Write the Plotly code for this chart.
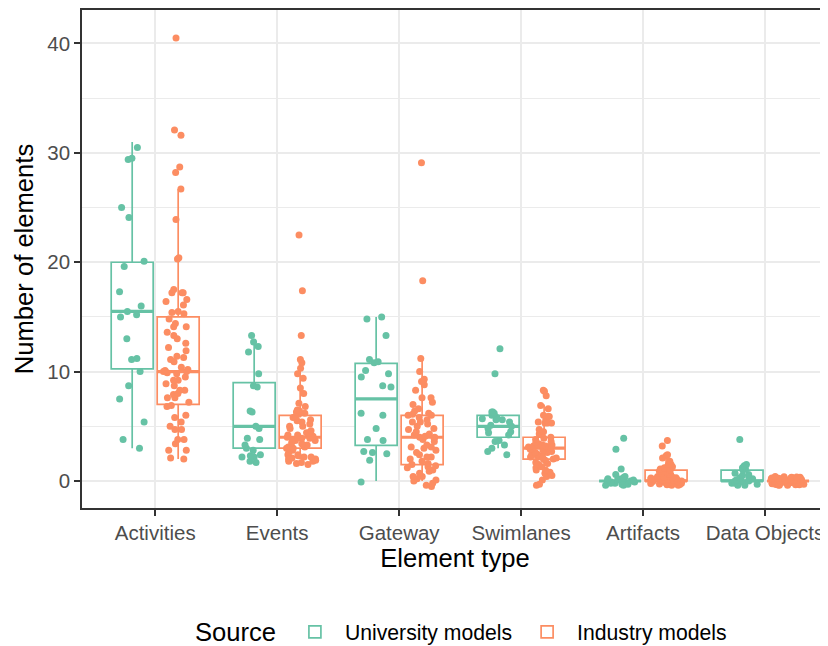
import plotly.graph_objects as go

# ---------------- data ----------------
categories = ["Activities", "Events", "Gateway", "Swimlanes", "Artifacts", "Data Objects"]

univ_activities = [30.5, 29.5, 29.4, 25.0, 24.1, 20.1, 19.6, 17.3, 16.0, 15.5, 15.2, 15.0, 13.0,
                   11.2, 11.1, 10.0, 8.7, 7.5, 5.4, 3.8, 3.0]
ind_activities = [40.5, 32.1, 31.6, 28.7, 28.2, 26.7, 23.9, 20.4, 20.3, 17.5, 17.2, 17.2, 17.2,
                  16.6, 16.4, 16.1, 15.5, 15.4, 15.3, 14.8, 14.4, 14.1, 14.1, 13.6, 13.3, 13.0,
                  12.6, 12.2, 11.9, 11.4, 11.3, 11.1, 10.9, 10.4, 10.2, 10.1, 10.0, 10.0, 9.9,
                  9.8, 9.5, 9.2, 9.2, 8.9, 8.7, 8.3, 8.3, 8.0, 7.9, 7.6, 7.6, 7.2, 6.9, 6.8,
                  6.0, 5.8, 5.4, 5.0, 4.7, 4.7, 3.8, 3.8, 3.4, 2.8, 2.8, 2.1, 2.0]

univ_events = [13.3, 12.7, 12.3, 11.8, 9.8, 8.7, 8.6, 6.4, 6.3, 5.0, 4.8, 3.9, 3.8, 3.3, 3.0,
               2.8, 2.4, 2.3, 2.2, 2.2, 1.8, 1.7]
ind_events = [22.5, 17.4, 13.3, 11.1, 10.8, 10.3, 9.8, 9.4, 8.5, 8.0, 7.1, 6.8, 6.5, 6.4, 6.3,
              6.2, 6.1, 5.9, 5.8, 5.6, 5.5, 5.4, 5.2, 5.0, 5.0, 4.8, 4.6, 4.4, 4.4, 4.2, 4.2,
              4.1, 4.0, 4.0, 3.9, 3.9, 3.8, 3.7, 3.7, 3.5, 3.4, 3.3, 3.3, 3.1, 3.1, 3.0, 3.0,
              2.9, 2.8, 2.6, 2.4, 2.4, 2.3, 2.2, 2.2, 2.1, 2.0, 2.0, 1.9, 1.8, 1.8, 1.7, 1.6, 1.5]

univ_gateway = [15.0, 14.8, 13.3, 11.1, 10.9, 10.8, 10.1, 9.8, 9.5, 8.7, 8.6, 6.2, 6.0, 4.8,
                3.8, 3.7, 2.7, 2.6, 2.5, 1.9, -0.1]
ind_gateway = [29.1, 18.3, 11.2, 10.0, 9.3, 9.1, 8.8, 8.3, 7.6, 7.6, 7.2, 7.0, 6.6, 6.4, 6.2,
               6.1, 6.0, 6.0, 5.8, 5.6, 5.4, 5.4, 5.2, 5.0, 4.8, 4.7, 4.5, 4.3, 4.2, 4.1, 4.0,
               4.0, 3.9, 3.8, 3.6, 3.3, 3.1, 3.1, 3.0, 2.8, 2.6, 2.4, 2.2, 2.2, 2.0, 1.8, 1.6,
               1.5, 1.4, 1.3, 1.2, 1.0, 0.9, 0.7, 0.4, 0.4, 0.2, 0.1, 0.0, -0.2, -0.4, -0.5]

univ_swimlanes = [12.1, 9.8, 6.3, 6.3, 6.2, 6.0, 5.8, 5.7, 5.6, 5.6, 5.4, 5.1, 5.0, 4.8, 4.5,
                  4.4, 4.2, 3.7, 3.6, 3.3, 3.0, 2.7, 2.4]
ind_swimlanes = [8.3, 8.2, 7.8, 6.9, 6.6, 6.0, 5.9, 5.9, 5.6, 5.4, 5.3, 5.3, 5.3, 4.7, 4.5,
                 4.3, 4.0, 3.9, 3.8, 3.6, 3.5, 3.4, 3.3, 3.3, 3.2, 3.2, 3.1, 3.1, 3.0, 3.0,
                 2.9, 2.8, 2.8, 2.7, 2.6, 2.6, 2.5, 2.4, 2.3, 2.3, 2.2, 2.2, 2.1, 2.0, 2.0,
                 1.9, 1.7, 1.6, 1.5, 1.3, 1.2, 1.0, 1.0, 0.8, 0.7, 0.5, 0.4, 0.1, -0.3, -0.4]

univ_artifacts = [3.9, 2.9, 1.1, 0.6, 0.4, 0.3, -0.3, 0.2, -0.1, 0.1, -0.4, 0.1, 0.0, 0.3,
                  -0.2, -0.1, 0.2, -0.3, 0.1, -0.2, 0.0, -0.4]
ind_artifacts = [3.7, 3.2, 2.4, 2.3, 2.1, 1.8, 1.5, 1.5, 1.4, 1.3, 1.2, 1.1, 1.0, 0.9, 0.9,
                 0.8, 0.7, 0.6, 0.4, -0.3, 0.1, -0.2, 0.3, 0.0, -0.4, 0.2, -0.1, 0.35, -0.25,
                 0.05, -0.35, 0.25, -0.05, 0.15, -0.15, 0.3, -0.3, 0.0, 0.2, -0.2, 0.1, -0.1,
                 0.38, -0.38, 0.12, -0.12, 0.28, -0.28, 0.02, -0.32, 0.22, -0.08, 0.32, -0.22,
                 0.08, -0.18, 0.18, -0.02]

univ_dataobjects = [3.8, 1.5, 1.4, 1.2, 1.1, 1.0, 0.7, 0.6, 0.5, 0.3, -0.4, 0.2, 0.1, -0.2,
                    0.0, 0.3, -0.1, 0.1, -0.3, 0.0, -0.2, -0.4]
ind_dataobjects = [0.3, -0.2, 0.1, -0.4, 0.2, 0.0, -0.3, 0.4, -0.1, 0.35, -0.25, 0.15, -0.35,
                   0.05, 0.25, -0.15, 0.38, -0.05, 0.12, -0.32, 0.22, -0.12, 0.32, -0.22, 0.02,
                   -0.38, 0.18, -0.08, 0.28, -0.28, 0.08, -0.18, 0.36, -0.02, 0.16, -0.36, 0.26,
                   -0.26, 0.06, -0.16, 0.34, -0.34, 0.14, -0.06, 0.24, -0.24, 0.04, -0.14]

# box statistics (per category)
univ_q1 = [10.25, 3.0, 3.25, 4.0, 0.0, 0.0]
univ_median = [15.5, 5.0, 7.5, 5.0, 0.0, 0.0]
univ_q3 = [20.0, 9.0, 10.75, 6.0, 0.0, 1.0]
univ_lower = [3.0, 2.0, 0.0, 3.0, 0.0, 0.0]
univ_upper = [31.0, 13.0, 15.0, 6.0, 0.0, 1.0]

ind_q1 = [7.0, 3.0, 1.5, 2.0, 0.0, 0.0]
ind_median = [10.0, 4.0, 4.0, 3.0, 0.0, 0.0]
ind_q3 = [15.0, 6.0, 6.0, 4.0, 1.0, 0.0]
ind_lower = [2.0, 2.0, 0.0, 0.0, 0.0, 0.0]
ind_upper = [26.7, 11.0, 11.0, 7.0, 2.0, 0.0]

univ_points = [univ_activities, univ_events, univ_gateway, univ_swimlanes,
               univ_artifacts, univ_dataobjects]
ind_points = [ind_activities, ind_events, ind_gateway, ind_swimlanes,
              ind_artifacts, ind_dataobjects]

GREEN = "#66C2A5"
ORANGE = "#FC8D62"
FONT = "Liberation Sans, Arial, Helvetica, sans-serif"

fig = go.Figure()

groups = [
    ("University models", "U", GREEN, univ_q1, univ_median, univ_q3, univ_lower, univ_upper, univ_points),
    ("Industry models", "I", ORANGE, ind_q1, ind_median, ind_q3, ind_lower, ind_upper, ind_points),
]

# boxes
for name, grp, col, q1, med, q3, lo, hi, pts in groups:
    fig.add_trace(go.Box(
        x=categories, q1=q1, median=med, q3=q3, lowerfence=lo, upperfence=hi,
        name=name, legendgroup=grp, offsetgroup=grp, alignmentgroup="a",
        boxpoints=False, whiskerwidth=0,
        line=dict(color=col, width=1.7), fillcolor="white",
        marker=dict(color=col, size=7), showlegend=True, hoverinfo="skip",
    ))

# thick median lines
for name, grp, col, q1, med, q3, lo, hi, pts in groups:
    fig.add_trace(go.Box(
        x=categories, q1=med, median=med, q3=med, lowerfence=med, upperfence=med,
        name=name, legendgroup=grp, offsetgroup=grp, alignmentgroup="a",
        boxpoints=False, whiskerwidth=0,
        line=dict(color=col, width=3.2), fillcolor="rgba(0,0,0,0)",
        showlegend=False, hoverinfo="skip",
    ))

# jittered points
for name, grp, col, q1, med, q3, lo, hi, pts in groups:
    xs, ys = [], []
    for cat, vals in zip(categories, pts):
        xs += [cat] * len(vals)
        ys += vals
    fig.add_trace(go.Box(
        x=xs, y=ys, name=name, legendgroup=grp, offsetgroup=grp, alignmentgroup="a",
        boxpoints="all", jitter=0.8, pointpos=0, whiskerwidth=0,
        line=dict(color="rgba(0,0,0,0)", width=0.1), fillcolor="rgba(0,0,0,0)",
        marker=dict(color=col, size=7, line=dict(width=0)),
        showlegend=False, hoverinfo="skip",
    ))

# legend title as a free text (avoids clipping inside the legend box)
fig.add_annotation(
    text="Source", xref="paper", yref="paper", x=0.2058, y=-0.249,
    xanchor="center", yanchor="middle", showarrow=False,
    font=dict(size=25.6, family=FONT, color="black"),
)

# page body has an 8px margin, so the figure is sized/offset to compensate
fig.update_layout(
    width=820, height=638, autosize=False,
    margin=dict(l=74, r=0, t=2, b=138, autoexpand=False),
    paper_bgcolor="white", plot_bgcolor="white",
    boxmode="group", boxgap=0.246, boxgroupgap=0.087,
    font=dict(family=FONT, color="black"),
    legend=dict(
        orientation="h", x=0.272, xanchor="left", y=-0.249, yanchor="middle",
        font=dict(size=21.2, family=FONT, color="black"),
        itemwidth=50, valign="middle",
    ),
    xaxis=dict(
        type="category", categoryorder="array", categoryarray=categories,
        range=[-0.6, 5.516], automargin=False,
        showgrid=True, gridcolor="#EBEBEB", gridwidth=2,
        showline=True, linecolor="#333333", linewidth=1.6, mirror=True,
        ticks="outside", ticklen=6, tickwidth=1.5, tickcolor="#333333",
        tickfont=dict(size=20.5, color="#4D4D4D", family=FONT),
        title=dict(text="Element type", font=dict(size=25.6, color="black", family=FONT), standoff=1),
        zeroline=False,
    ),
    yaxis=dict(
        range=[-2.47, 43.06], automargin=False,
        tickvals=[0, 10, 20, 30, 40],
        showgrid=True, gridcolor="#EBEBEB", gridwidth=2,
        minor=dict(tickvals=[5, 15, 25, 35], showgrid=True, gridcolor="#EBEBEB", gridwidth=1, ticks=""),
        showline=True, linecolor="#333333", linewidth=1.6, mirror=False,
        ticks="outside", ticklen=6, tickwidth=1.5, tickcolor="#333333",
        tickfont=dict(size=20.5, color="#4D4D4D", family=FONT),
        title=dict(text="Number of elements", font=dict(size=25.6, color="black", family=FONT), standoff=6),
        zeroline=False,
    ),
)

fig.write_html("out.html")
